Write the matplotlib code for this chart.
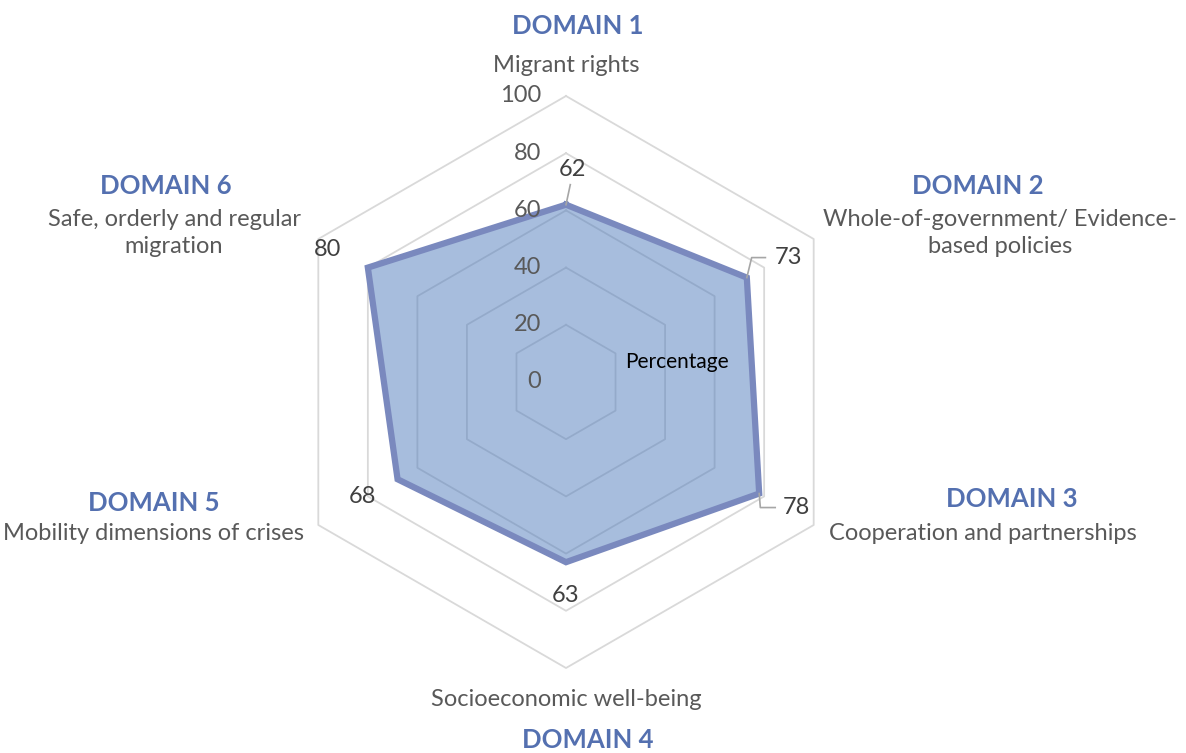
import matplotlib
matplotlib.use('Agg')
import matplotlib.pyplot as plt
import numpy as np

plt.rcParams['font.family'] = ['Lato', 'DejaVu Sans']

# Data
domains = ['DOMAIN 1', 'DOMAIN 2', 'DOMAIN 3', 'DOMAIN 4', 'DOMAIN 5', 'DOMAIN 6']
names = ['Migrant rights', 'Whole-of-government/ Evidence-\nbased policies',
         'Cooperation and partnerships', 'Socioeconomic well-being',
         'Mobility dimensions of crises', 'Safe, orderly and regular\nmigration']
values = [62, 73, 78, 63, 68, 80]
ticks = [0, 20, 40, 60, 80, 100]

W, H = 1186, 753
CX, CY = 566, 382          # centre in pixels (from top)
S = 2.86                   # pixels per unit


def px(x, y):
    """pixel position (from top-left) -> data coords"""
    return (x - CX) / S, (CY - y) / S


angles = np.pi / 2 - np.arange(6) * np.pi / 3


def xy(r):
    r = np.asarray(r, dtype=float)
    return r * np.cos(angles), r * np.sin(angles)


fig = plt.figure(figsize=(W / 100, H / 100), dpi=100)
ax = fig.add_axes([0, 0, 1, 1])
x0, y0 = px(0, H)
x1, y1 = px(W, 0)
ax.set_xlim(x0, x1)
ax.set_ylim(y0, y1)
ax.axis('off')

# hexagonal grid
grid_col = '#d9d9d9'
for t in ticks[1:]:
    gx, gy = xy([t] * 6)
    ax.plot(np.append(gx, gx[0]), np.append(gy, gy[0]), color=grid_col, lw=1.3, zorder=1)

# series
vx, vy = xy(values)
ax.fill(vx, vy, color='#517dbd', alpha=0.5, lw=0, zorder=2)
ax.plot(np.append(vx, vx[0]), np.append(vy, vy[0]), color='#7a89be', lw=4.5,
        solid_joinstyle='miter', zorder=3)

# tick labels
tick_col = '#595959'
for t in ticks:
    tx, ty = px(541, CY - t * S)
    ax.text(tx, ty, str(t), ha='right', va='center', fontsize=17, color=tick_col, zorder=4)

# value labels with leader lines
lab_col = '#404040'
label_pos = [(572, 169), (789, 258), (796, 508), (566, 596), (362, 497), (328, 250)]
leaders = {
    0: [(0, 0), (1.5, 7)],
    1: [(0, 0), (1.7, 7), (6.5, 7)],
    2: [(0, 0), (0.4, -4.9), (5.6, -4.9)],
}
for i, (v, (lx, ly)) in enumerate(zip(values, label_pos)):
    tx, ty = px(lx, ly)
    ax.text(tx, ty, str(v), ha='center', va='center', fontsize=17, color=lab_col, zorder=4)
    if i in leaders:
        pts = np.array(leaders[i])
        ax.plot(vx[i] + pts[:, 0], vy[i] + pts[:, 1], color='#a6a6a6', lw=1.2, zorder=4)

# category labels
dom_col = '#5470b0'
name_col = '#595959'
dom_pos = [(578, 26), (978, 186), (1012, 499), (588, 740), (154, 503), (166, 186)]
name_pos = [(566, 66), (1000, 233), (983, 533), (566, 699), (153, 533), (174, 233)]
for d, n, dp, npos in zip(domains, names, dom_pos, name_pos):
    ax.text(*px(*dp), d, ha='center', va='center', fontsize=18.5, fontweight='bold',
            color=dom_col)
    ax.text(*px(*npos), n, ha='center', va='center', fontsize=17, color=name_col,
            linespacing=1.38)

ax.text(*px(677, 362), 'Percentage', ha='center', va='center', fontsize=15, color='black')

fig.savefig('out.png', dpi=100, facecolor='white')
